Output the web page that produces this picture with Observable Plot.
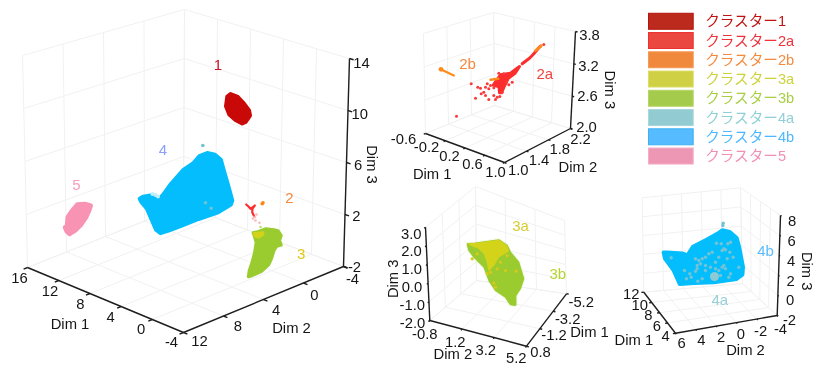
<!DOCTYPE html>
<html lang="ja">
<head>
<meta charset="utf-8">
<script src="https://cdn.jsdelivr.net/npm/d3@7"></script>
<script src="https://cdn.jsdelivr.net/npm/@observablehq/plot@0.6"></script>
<style>
html,body{margin:0;padding:0;background:#fff;overflow:hidden}
#chart{position:relative;width:820px;height:377px}
#chart svg{position:absolute;display:block;background:transparent;filter:blur(0.3px)}
</style>
</head>
<body>
<div id="chart"></div>
<script>
// ---------- legend ----------
const clusterNames = ["クラスター1","クラスター2a","クラスター2b","クラスター3a","クラスター3b","クラスター4a","クラスター4b","クラスター5"];
const swatchFill   = ["#bb2a1d","#ea4741","#f0893c","#cfd043","#a5cb4c","#92cbd1","#56bbff","#ee97b5"];
const swatchEdge   = ["#b5140c","#ee3030","#f59a55","#dcdc66","#b5d565","#a8d8dc","#3fb0f5","#f4aec6"];
const legendText   = ["#c01212","#f0333b","#f58a3c","#cdd23c","#a8cf45","#90cfd6","#4cb8ff","#f090b5"];

// ---------- axis tick values ----------
const main1 = [-4,0,4,8,12,16], main2 = [12,8,4,0,-4], main3 = [-2,2,6,10,14];
const p2dim1 = [1.0,0.6,0.2,-0.2,-0.6], p2dim2 = [1.0,1.4,1.8,2.2], p2dim3 = [2.0,2.6,3.2,3.8];
const p3dim1 = [0.8,-1.2,-3.2,-5.2], p3dim2 = [5.2,3.2,1.2,-0.8], p3dim3 = [-2,-1,0,1,2,3];
const p4dim1 = [4,6,8,10,12], p4dim2 = [6,4,2,0,-2,-4], p4dim3 = [-2,0,2,4,6,8];

// ---------- cluster shapes in the image plane ----------
const c1 = [[230,93.5],[236.7,96],[243.3,102.8],[248.5,110],[249.5,115],[245,121.5],[241.7,123],[235,119.5],[228.8,114],[225.5,105.7],[226.8,96]];
const c5 = [[90.5,205],[84.3,203.2],[76.7,203.8],[71,210.5],[67,216.7],[66.3,225],[64.2,226.7],[66,231],[69,233.8],[75,230],[80.5,224.5],[86,216.5],[89,210]];
const c4 = [[139.2,198.3],[142.5,196.3],[151.7,194.8],[156.7,200.5],[162.5,194.5],[170.8,183],[182.5,169.7],[192.5,163],[199,155.5],[206.7,152.5],[214.5,154.2],[220.4,159.3],[223.8,171.7],[227.3,183.5],[231.8,200],[230.4,204],[217.6,211.8],[198,218.5],[181.2,225.2],[168,230.2],[160,232.7],[155.5,229.2],[151.3,219.5],[146.3,208],[141,201.7]];
const c4aMain = [[202.3,145],[210.7,207.7],[205,202.3]];
const c4notch = [[155,194.5],[152,193.5],[157.5,196]];
const c3b = [[265,228.3],[273.3,229.3],[277.6,230.2],[280.7,235],[279,240],[280.7,244.5],[276.2,245.8],[273.5,250],[271,258],[268,264.5],[261,270.8],[252,275],[247.8,276.2],[248.8,270],[251.5,262],[254.2,252],[255.7,241.7],[254,236.2],[252.7,232.2],[258.3,231]];
const c3a = [[252.8,232.2],[263.3,231.2],[263.3,234.5],[258.3,237.8],[254,236.5]];
const c2aMain = [[245.7,204],[248,206],[250,208.3],[254.3,205],[252,208],[251.7,211.7],[253.3,215]];
const c2aHaze = [[255,220],[252.5,218],[254.5,216.5],[256,214],[259,222.3]];
const c2bMain = [[261.7,203.3],[262.5,202.3]];
const c3Stray = [[260,226.5]];

const p2core = [[492.7,84.5],[500,74.3],[510,72.7],[519,66],[514.5,72.8],[507.8,77.8],[504.2,85],[501,92.3],[499,92.3],[498.5,86.2]];
const p2tail = [[521.7,63.3],[525,60.7],[528.3,58.3],[530.7,56],[533.3,53.3],[536,50],[538.3,47.3],[540,45.7]];
const p2dots = [[543.3,44],[470.7,83.3],[477.3,86.7],[480,87.7],[485,86.7],[488.3,88.3],[493.3,87.3],[480.7,93.3],[483.3,91.7],[485,95],[475,97.7],[488.3,99],[493.3,95],[496.7,96.7],[495,99],[499.3,96],[501.7,91.7],[511.7,81.7],[506,81.7],[508.3,84.3],[456,115.7],[503.3,73.3],[498.3,72.7],[490,85],[486.7,83.3]];
const p2bLeft = [[441,69.3],[446,71.5],[453.3,75]];
const p2bHead = [[440.5,68.8]];
const p2bTop = [[535,50],[540.7,45.3]];
const p2bMid = [[490,79.3],[497.7,78.3]];

const p3b = [[467.7,244],[475,243.5],[498.3,240.2],[506,245.5],[509.2,252.2],[517.4,262],[522.3,278.3],[519,288],[514.4,295],[514.5,304],[510.3,303.2],[505.5,296],[495.5,289.3],[489.2,279.6],[484.2,266.2],[474,256],[469.2,249.6]];
const p3a = [[475,243.5],[498.3,240.2],[505.8,245.5],[507.4,250.4],[498,256],[493,264.3],[488.6,269],[487.5,263],[484.2,253],[478.8,247.7],[469,243.5]];
const p3aDots = [[471.7,258.3],[490,271.7],[496.7,268.3],[505,270],[515.7,270.7],[493.3,282.7],[495,286.7],[506.7,255],[500,261.7],[476.7,253.3],[486.7,273.3]];

const p4b = [[663.2,252],[666.7,252],[681.7,253],[687,254.8],[692.4,246.3],[705.6,239.6],[717.3,233],[721.7,229.8],[729.3,231.5],[736.2,237.4],[738.7,246.7],[742.5,266.7],[741.9,274.2],[736,278.5],[713.2,281.8],[693.3,282.5],[679.2,283.5],[677.3,279.3],[672.8,269.3],[664.5,258]];
const p4aDots = [[722.3,225],[722.7,222.7],[670.7,257.3],[695,258.3],[698.3,260],[701.7,258.3],[705,256.7],[708.3,253.3],[711.7,251.7],[696.7,265],[700,263.3],[705,265],[696.7,268.3],[695,270.7],[689.3,273.3],[690.7,276.7],[684,270],[686,278.3],[701.7,278.3],[697.3,280.7],[705,270],[710,266.7],[715,261.7],[718.3,256.7],[723.3,248.3],[716,242.7],[720.7,243.3],[727.3,243.3],[730,241.7],[721.7,250],[725,249.3],[729.3,251.7],[732.7,256.7],[726.7,258.3],[723.3,265],[738.3,266.7],[718.3,270],[721.7,266.7],[725,268.3],[715,268.3],[720,275],[730,273.3],[728.3,276.7]];
const p4aClump = [[714,276]];

// ---------- cluster names written beside the clouds ----------
const clusterTags = [
  {t:"1",x:217.5,y:65,c:"#c8102e"},{t:"4",x:162.3,y:150,c:"#8aa0ff"},{t:"5",x:76,y:184.3,c:"#f4a0bd"},
  {t:"2",x:289,y:197.7,c:"#f58a3c"},{t:"3",x:300.7,y:253.3,c:"#e0c810"},
  {t:"2b",x:467,y:63.3,c:"#f58a3c"},{t:"2a",x:544.3,y:74,c:"#f0433f"},
  {t:"3a",x:520,y:225.7,c:"#d8cc30"},{t:"3b",x:557.3,y:273.3,c:"#b5d334"},
  {t:"4a",x:719.3,y:300,c:"#98d0d8"},{t:"4b",x:765,y:251,c:"#5bbcff"}
];

// ---------- the four 3-D boxes ----------
const panels = [
  {F:[183,332],L:[27,267],R:[343,266],B:[183,205],Lt:[22,55],Rt:[349,58],Bt:[184,9],
   left:{ticks:main1,from:[171,342],to:[19,278]}, right:{ticks:main2,from:[199,341],to:[352,279]},
   up:{ticks:main3,from:[354,266.7],to:[361,63],at:"R"},
   titles:[{t:"Dim 1",x:69.5,y:324},{t:"Dim 2",x:291,y:327.7}], rot:{t:"Dim 3",x:371.7,y:164,a:90}},
  {F:[504,162],L:[425,133],R:[570,128],B:[494,105],Lt:[423,33],Rt:[575,31],Bt:[493,12],
   left:{ticks:p2dim1,from:[495,171.7],to:[403,139]}, right:{ticks:p2dim2,from:[517.7,170],to:[580,138.3]},
   up:{ticks:p2dim3,from:[586,126.7],to:[589,35],at:"R"},
   titles:[{t:"Dim 1",x:431.7,y:173.3},{t:"Dim 2",x:577.3,y:166.7}], rot:{t:"Dim 3",x:609,y:89.3,a:90}},
  {F:[526,345.7],L:[429.3,320],R:[566,293.3],B:[476,280],Lt:[425,226.7],Rt:[564,220],Bt:[475,186],
   left:{ticks:p3dim2,from:[515.7,357.7],to:[424.3,333.3]}, right:{ticks:p3dim1,from:[540,351.7],to:[580.7,301.7]},
   up:{ticks:p3dim3,from:[412,322.7],to:[410.7,233.3],at:"L"},
   titles:[{t:"Dim 2",x:452.3,y:353.3},{t:"Dim 1",x:589,y:332}], rot:{t:"Dim 3",x:392.3,y:278.3,a:-90}},
  {F:[675,332.7],L:[643.3,291.7],R:[776.7,315],B:[742,283],Lt:[641.7,197.3],Rt:[780,215],Bt:[740,187.3],
   left:{ticks:p4dim1,from:[665,336],to:[630.7,294]}, right:{ticks:p4dim2,from:[681,342.3],to:[780,328.3]},
   up:{ticks:p4dim3,from:[789,320],to:[791.7,221],at:"R"},
   titles:[{t:"Dim 1",x:633.3,y:339.3},{t:"Dim 2",x:745,y:350}], rot:{t:"Dim 3",x:806.7,y:270.7,a:90}}
];

const lerp = (a,b,t)=>[a[0]+(b[0]-a[0])*t, a[1]+(b[1]-a[1])*t];
function pt(p,u,v,w){
  const Ft=[p.F[0]+p.Bt[0]-p.B[0], p.F[1]+p.Bt[1]-p.B[1]];
  const lo=lerp(lerp(p.F,p.L,u),lerp(p.R,p.B,u),v);
  const hi=lerp(lerp(Ft,p.Lt,u),lerp(p.Rt,p.Bt,u),v);
  return lerp(lo,hi,w);
}
const frac = ticks => ticks.map((_,i)=>i/(ticks.length-1));
const seg = (a,b)=>({x1:a[0],y1:a[1],x2:b[0],y2:b[1]});

const grid=[], axes=[], tickMarks=[], tickLabels=[], titles=[], rotTitles=[];
for(const p of panels){
  const U=frac(p.left.ticks), V=frac(p.right.ticks), W=frac(p.up.ticks);
  for(const v of V){grid.push(seg(pt(p,1,v,0),pt(p,1,v,1)));grid.push(seg(pt(p,0,v,0),pt(p,1,v,0)));}
  for(const u of U){grid.push(seg(pt(p,u,1,0),pt(p,u,1,1)));grid.push(seg(pt(p,u,0,0),pt(p,u,1,0)));}
  for(const w of W){grid.push(seg(pt(p,0,1,w),pt(p,1,1,w)));grid.push(seg(pt(p,1,0,w),pt(p,1,1,w)));}
  axes.push(seg(p.F,p.L),seg(p.F,p.R));
  const uAt=p.up.at==="R"?0:1, vAt=p.up.at==="R"?1:0;
  axes.push(seg(pt(p,uAt,vAt,0),pt(p,uAt,vAt,1)));
  for(const u of U)tickMarks.push(seg(pt(p,u,0,0),pt(p,u,-0.025,0)));
  for(const v of V)tickMarks.push(seg(pt(p,0,v,0),pt(p,-0.025,v,0)));
  for(const w of W)tickMarks.push(p.up.at==="R"?seg(pt(p,0,1,w),pt(p,-0.025,1,w)):seg(pt(p,1,0,w),pt(p,1,-0.025,w)));
  for(const ax of [p.left,p.right,p.up]){
    ax.ticks.forEach((t,i)=>{
      const q=lerp(ax.from,ax.to,i/(ax.ticks.length-1));
      const label=(ax.ticks.some(d=>!Number.isInteger(d))||ax===p.up&&p===panels[2])?t.toFixed(1):String(t);
      tickLabels.push({x:q[0],y:q[1],t:label});
    });
  }
  titles.push(...p.titles);
  rotTitles.push(p.rot);
}

const X=d=>d[0], Y=d=>d[1];
const blob=(data,color,sw=3,op=1)=>Plot.line(data,{x:X,y:Y,curve:"linear-closed",fill:color,stroke:color,strokeWidth:sw,fillOpacity:op,strokeOpacity:op,strokeLinejoin:"round"});
const thick=(data,color,sw)=>Plot.line(data,{x:X,y:Y,stroke:color,strokeWidth:sw,strokeLinecap:"round"});
const dots=(data,color,r,op=1)=>Plot.dot(data,{x:X,y:Y,r,fill:color,fillOpacity:op,stroke:"none"});
const FONT='"Liberation Sans","Noto Sans CJK JP",sans-serif';

const chart = Plot.plot({
  width:820,height:377,margin:0,
  style:{background:"transparent",fontFamily:FONT},
  x:{domain:[0,820],range:[0,820],axis:null},
  y:{domain:[0,377],range:[0,377],axis:null},
  marks:[
    Plot.link(grid,{x1:"x1",y1:"y1",x2:"x2",y2:"y2",stroke:"#f1f1f1",strokeWidth:1}),
    Plot.link(axes,{x1:"x1",y1:"y1",x2:"x2",y2:"y2",stroke:"#1e1e1e",strokeWidth:1.4}),
    Plot.link(tickMarks,{x1:"x1",y1:"y1",x2:"x2",y2:"y2",stroke:"#1e1e1e",strokeWidth:1.4}),
    // main panel
    blob(c1,"#c90808",4),
    blob(c5,"#f893b4",4),
    blob(c4,"#04bdfc",4),
    dots(c4notch,"#bfeefc",2),
    dots(c4aMain,"#6cc3d2",1.8),
    blob(c3b,"#d4e8a4",4,0.25),
    blob(c3b,"#9acb2f",3),
    blob(c3a,"#d3d31a",1),
    dots(c2aHaze,"#f88",1.3,0.6),
    thick(c2aMain,"#fb2d2d",2.2),
    dots(c2bMain,"#ff8412",1.8),
    dots(c3Stray,"#b8dc66",1.2),
    // close-up of cluster 2
    blob(p2core,"#fb2d2d",3),
    thick(p2tail,"#fb2d2d",3),
    dots(p2dots,"#fb3a3a",1.5),
    thick(p2bTop,"#ff8c1a",2.8),
    thick(p2bMid,"#ff8c1a",2.6),
    thick(p2bLeft,"#ff8c1a",2.2),
    dots(p2bHead,"#ff8c1a",2.4),
    // close-up of cluster 3
    blob(p3b,"#d4e8a4",5,0.25),
    blob(p3b,"#9acb2f",3),
    blob(p3a,"#d3d31a",2),
    dots(p3aDots,"#d9c91a",1.6),
    // close-up of cluster 4
    blob(p4b,"#04bdfc",4),
    dots(p4aDots,"#73c3d6",1.7),
    dots(p4aClump,"#8ccbd4",4.5),
    // text
    Plot.text(tickLabels,{x:"x",y:"y",text:"t",fill:"#151515",fontSize:14.8}),
    Plot.text(titles,{x:"x",y:"y",text:"t",fill:"#151515",fontSize:14.8}),
    ...rotTitles.map(d=>Plot.text([d],{x:"x",y:"y",text:"t",rotate:d.a,fill:"#151515",fontSize:14.8})),
    Plot.text(clusterTags,{x:"x",y:"y",text:"t",fill:"c",fontSize:15})
  ]
});
chart.style.left="0";chart.style.top="0";
document.getElementById("chart").append(chart);

const legendRows=clusterNames.map((n,i)=>({n,fill:swatchFill[i],edge:swatchEdge[i],txt:legendText[i]}));
const legend = Plot.plot({
  width:172,height:175,margin:0,
  style:{background:"transparent",fontFamily:FONT},
  x:{domain:[0,172],range:[0,172],axis:null},
  y:{domain:clusterNames,range:[10,167.3],padding:0.17,round:false,axis:null},
  marks:[
    Plot.barX(legendRows,{y:"n",x1:()=>0.5,x2:()=>45.2,fill:"fill",stroke:"edge",strokeWidth:1}),
    Plot.text(legendRows,{y:"n",x:()=>56.7,text:"n",fill:"txt",textAnchor:"start",fontSize:14.6})
  ]
});
legend.style.left="648px";legend.style.top="0";
document.getElementById("chart").append(legend);
</script>
</body>
</html>
